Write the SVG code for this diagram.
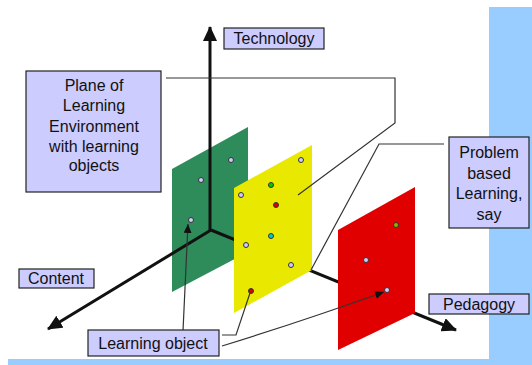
<svg xmlns="http://www.w3.org/2000/svg" width="532" height="365" viewBox="0 0 532 365">
<style>
.box{fill:#ccccff;stroke:#222;stroke-width:1.2}
.lbl{font-family:"Liberation Sans",Arial,sans-serif;font-size:16px;fill:#111;text-anchor:middle}
.axis{stroke:#111;stroke-width:3;fill:none}
.call{stroke:#333;stroke-width:1.2;fill:none}
.dot{stroke:#333;stroke-width:1}
</style>
<defs>
<marker id="axhead" markerUnits="userSpaceOnUse" markerWidth="16" markerHeight="14" refX="14" refY="7" orient="auto">
<path d="M0,0 L15,7 L0,14 z" fill="#111"/>
</marker>
<marker id="smhead" markerUnits="userSpaceOnUse" markerWidth="10" markerHeight="8" refX="9" refY="4" orient="auto">
<path d="M0,0 L9,4 L0,8 z" fill="#111"/>
</marker>
</defs>
<rect x="0" y="0" width="532" height="365" fill="#ffffff"/>
<rect x="489" y="7" width="43" height="358" fill="#99ccff"/>
<rect x="8" y="359" width="524" height="6" fill="#99ccff"/>

<g id="plane-green"><polygon points="172,169 248,127 248,252 172,292" fill="#2e8b5a"/></g>

<g id="axes">
<line class="axis" x1="210" y1="230" x2="210" y2="27" marker-end="url(#axhead)"/>
<line class="axis" x1="211" y1="230" x2="48" y2="329" marker-end="url(#axhead)"/>
<line class="axis" x1="211" y1="230" x2="456" y2="330" marker-end="url(#axhead)"/>
</g>

<g id="plane-yellow"><polygon points="234,188 312,145 312,270 234,313" fill="#e8e800"/></g>
<g id="plane-red"><polygon points="338,230 415,187 415,313 338,350" fill="#e00000"/></g>

<g id="learning-objects">
<circle class="dot" cx="231" cy="160" r="2.5" fill="#ccccff"/>
<circle class="dot" cx="201" cy="180" r="2.5" fill="#ccccff"/>
<circle class="dot" cx="191" cy="220" r="2.5" fill="#ccccff"/>
<circle class="dot" cx="301" cy="160" r="2.5" fill="#ccccff"/>
<circle class="dot" cx="271" cy="185" r="2.5" fill="#00cc00"/>
<circle class="dot" cx="241" cy="195" r="2.5" fill="#ccccff"/>
<circle class="dot" cx="276" cy="205" r="2.5" fill="#dd0000"/>
<circle class="dot" cx="271" cy="236" r="2.5" fill="#00cccc"/>
<circle class="dot" cx="246" cy="245" r="2.5" fill="#ccccff"/>
<circle class="dot" cx="291" cy="265" r="2.5" fill="#ccccff"/>
<circle class="dot" cx="251" cy="291" r="2.5" fill="#dd0000"/>
<circle class="dot" cx="396" cy="225" r="2.5" fill="#99aa00"/>
<circle class="dot" cx="366" cy="260" r="2.5" fill="#ccccff"/>
<circle class="dot" cx="387" cy="290" r="2.5" fill="#ccccff"/>
</g>

<g id="connectors">
<polyline class="call" points="166,78 395,78 395,123 298,195"/>
<polyline class="call" points="444,144 379,144 311,270"/>
<line class="call" x1="183" y1="331" x2="188" y2="224" marker-end="url(#smhead)"/>
<polyline class="call" points="222,335 236,335 250,293"/>
<path class="call" d="M222,346 Q300,322 384,292" marker-end="url(#smhead)"/>
</g>

<g id="node-technology">
<rect class="box" x="224" y="28" width="100" height="21"/>
<text class="lbl" x="274" y="44">Technology</text>
</g>
<g id="node-plane">
<rect class="box" x="26" y="71" width="135" height="121"/>
<text class="lbl" x="94" y="91">Plane of</text>
<text class="lbl" x="94" y="111">Learning</text>
<text class="lbl" x="94" y="132">Environment</text>
<text class="lbl" x="94" y="152">with learning</text>
<text class="lbl" x="94" y="171">objects</text>
</g>
<g id="node-problem">
<rect class="box" x="449" y="137" width="80" height="91"/>
<text class="lbl" x="489" y="158">Problem</text>
<text class="lbl" x="489" y="179">based</text>
<text class="lbl" x="489" y="199">Learning,</text>
<text class="lbl" x="489" y="220">say</text>
</g>
<g id="node-content">
<rect class="box" x="19" y="269" width="75" height="19"/>
<text class="lbl" x="56" y="284">Content</text>
</g>
<g id="node-pedagogy">
<rect class="box" x="429" y="294" width="100" height="20"/>
<text class="lbl" x="479" y="310">Pedagogy</text>
</g>
<g id="node-learning-object">
<rect class="box" x="88" y="330" width="131" height="26"/>
<text class="lbl" x="153" y="349">Learning object</text>
</g>
</svg>
